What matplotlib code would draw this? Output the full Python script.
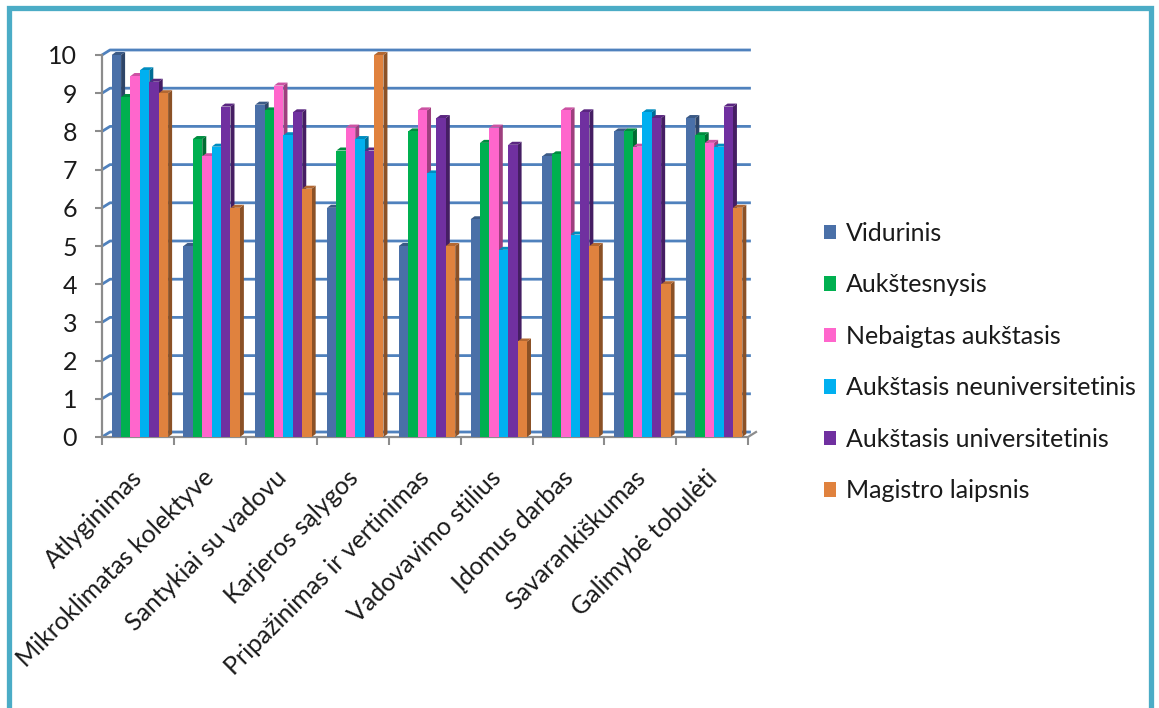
import matplotlib.pyplot as plt
from matplotlib.patches import Polygon, Rectangle, Patch
from matplotlib import transforms
import numpy as np

plt.rcParams['font.family'] = ['Lato', 'DejaVu Sans']

categories = ['Atlyginimas', 'Mikroklimatas kolektyve', 'Santykiai su vadovu',
              'Karjeros sąlygos', 'Pripažinimas ir vertinimas', 'Vadovavimo stilius',
              'Įdomus darbas', 'Savarankiškumas', 'Galimybė tobulėti']
series_names = ['Vidurinis', 'Aukštesnysis', 'Nebaigtas aukštasis',
                'Aukštasis neuniversitetinis', 'Aukštasis universitetinis',
                'Magistro laipsnis']
vidurinis = [10.0, 5.0, 8.7, 6.0, 5.0, 5.7, 7.35, 8.0, 8.35]
aukstesnysis = [8.9, 7.8, 8.55, 7.5, 8.0, 7.7, 7.4, 8.0, 7.9]
nebaigtas = [9.45, 7.35, 9.2, 8.1, 8.55, 8.1, 8.55, 7.6, 7.7]
neuniversitetinis = [9.6, 7.6, 7.9, 7.8, 6.9, 4.9, 5.3, 8.5, 7.6]
universitetinis = [9.3, 8.65, 8.5, 7.5, 8.35, 7.65, 8.5, 8.35, 8.65]
magistro = [9.0, 6.0, 6.5, 10.0, 5.0, 2.5, 5.0, 4.0, 6.0]
series = [vidurinis, aukstesnysis, nebaigtas, neuniversitetinis, universitetinis, magistro]
colors = ['#4a70a8', '#00b050', '#ff66cc', '#00b0f0', '#7030a0', '#e0823e']

W, H = 1159, 708
fig = plt.figure(figsize=(W / 100, H / 100), dpi=100)
fig.patch.set_facecolor('white')

# outer frame
fig.add_artist(Rectangle((9 / W, -0.05), (1151 - 9) / W, 1.05 - 8 / H,
                         transform=fig.transFigure, fill=False,
                         edgecolor='#4bacc6', lw=3.8))

ax = fig.add_axes([102 / W, 1 - 437 / H, (748 - 102) / W, (437 - 55) / H])
ax.set_xlim(0, 9)
ax.set_ylim(0, 10)
for s in ax.spines.values():
    s.set_visible(False)
ax.patch.set_alpha(0)

n_cat = len(categories)
px_x = (748 - 102) / n_cat     # pixels per category
px_y = (437 - 55) / 10.0       # pixels per unit
dx, dy = 4 / px_x, 3 / px_y    # bar depth
bx, by = 8 / px_x, 5 / px_y    # back wall offset

grid_c = '#4f81bd'
axis_c = '#8c8c8c'

# back wall gridlines with a short slanted side-wall edge
for v in range(0, 11):
    ax.plot([0, bx, n_cat + 0.04], [v, v + by, v + by], color=grid_c, lw=2,
            solid_capstyle='butt', zorder=1, clip_on=False)

# front axes
ax.plot([0, 0], [0, 10], color=axis_c, lw=1.6, zorder=2, clip_on=False)
ax.plot([0, n_cat, n_cat + bx], [0, 0, by], color=axis_c, lw=1.6, zorder=2,
        clip_on=False)
ax.set_yticks(range(0, 11))
ax.tick_params(axis='y', length=5, width=1.5, color=axis_c, pad=13,
               labelsize=18, labelcolor='#1a1a1a')
ax.set_xticks(range(0, n_cat + 1))
ax.set_xticklabels([])
ax.tick_params(axis='x', length=6, width=1.5, color=axis_c)


def shade(c, f):
    r, g, b = plt.matplotlib.colors.to_rgb(c)
    return (r * f, g * f, b * f)


bw = 0.131
start = 0.135
z = 3
for i in range(n_cat):
    for k, vals in enumerate(series):
        h = vals[i]
        x0 = i + start + k * bw
        x1 = x0 + bw
        col = colors[k]
        side = Polygon([(x1, 0), (x1, h), (x1 + dx, h + dy), (x1 + dx, dy)],
                       closed=True, facecolor=shade(col, 0.62), edgecolor='none',
                       zorder=z, clip_on=False)
        top = Polygon([(x0, h), (x1, h), (x1 + dx, h + dy), (x0 + dx, h + dy)],
                      closed=True, facecolor=shade(col, 0.8), edgecolor='none',
                      zorder=z, clip_on=False)
        ax.add_patch(side)
        ax.add_patch(top)
        ax.bar(x0, h, width=bw, align='edge', color=col, edgecolor='none',
               zorder=z + 0.5, clip_on=False)
        z += 1

# rotated category labels
lab_tr = transforms.offset_copy(ax.transData, fig=fig, x=1, y=-37, units='dots')
for i, cat in enumerate(categories):
    ax.text(i + 0.5, 0, cat, transform=lab_tr, rotation=45, ha='right',
            va='center', rotation_mode='anchor', fontsize=18, color='#1a1a1a')

handles = [Patch(facecolor=c, edgecolor='none') for c in colors]
fig.legend(handles, series_names, loc='center left',
           bbox_to_anchor=(801 / W, 1 - 362 / H), frameon=False,
           fontsize=18, handlelength=0.5, handleheight=0.5, handletextpad=0.4,
           labelspacing=1.14, labelcolor='#1a1a1a')

fig.savefig('out.png', dpi=100)
